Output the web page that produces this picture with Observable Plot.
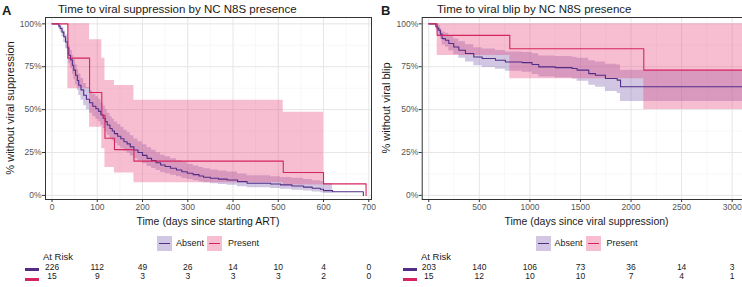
<!DOCTYPE html>
<html>
<head>
<meta charset="utf-8">
<script src="https://cdn.jsdelivr.net/npm/d3@7"></script>
<script src="https://cdn.jsdelivr.net/npm/@observablehq/plot@0.6"></script>
<style>
  html, body { margin: 0; padding: 0; background: #fff; }
  #fig { position: relative; width: 742px; height: 287px; overflow: hidden;
         font-family: 'Liberation Sans', Arial, Helvetica, sans-serif; color: #1a1a1a; }
  #fig .t { position: absolute; white-space: nowrap; line-height: 1; transform: translate(0, -50%); }
  #fig .c { transform: translate(-50%, -50%); }
  #fig .r { transform: translate(-50%, -50%) rotate(-90deg); }
  #fig .sw { position: absolute; width: 15px; height: 15px; }
  #fig .sw::after { content: ""; position: absolute; left: 2px; right: 2px; top: 7px; height: 1.2px; background: var(--line); }
  #fig .bar { position: absolute; height: 3px; }
  #fig svg { position: absolute; top: 0; }
</style>
</head>
<body>
<div id="fig"></div>
<script>
// Kaplan–Meier estimates: [time (days), survival, lower 95% CI, upper 95% CI]
const suppressionAbsent = [
  [0, 1, 1, 1], [15, 0.987, 0.972, 1], [18, 0.973, 0.952, 0.994], [22, 0.952, 0.925, 0.98],
  [26, 0.925, 0.891, 0.96], [30, 0.894, 0.855, 0.935], [34, 0.86, 0.816, 0.906],
  [37, 0.817, 0.768, 0.869], [41, 0.79, 0.739, 0.845], [45, 0.759, 0.705, 0.817],
  [48, 0.73, 0.674, 0.79], [52, 0.70, 0.643, 0.762], [56, 0.67, 0.611, 0.734],
  [59, 0.642, 0.582, 0.708], [64, 0.615, 0.555, 0.682], [70, 0.584, 0.523, 0.652],
  [76, 0.56, 0.499, 0.629], [83, 0.54, 0.479, 0.609], [90, 0.52, 0.459, 0.589],
  [97, 0.505, 0.444, 0.575], [103, 0.49, 0.429, 0.56], [108, 0.47, 0.409, 0.54],
  [113, 0.45, 0.39, 0.52], [118, 0.43, 0.37, 0.50], [122, 0.41, 0.351, 0.479],
  [128, 0.39, 0.331, 0.459], [133, 0.375, 0.317, 0.444], [138, 0.36, 0.303, 0.428],
  [145, 0.345, 0.288, 0.413], [152, 0.33, 0.274, 0.397], [159, 0.313, 0.258, 0.38],
  [166, 0.30, 0.246, 0.366], [173, 0.283, 0.23, 0.348], [181, 0.265, 0.213, 0.329],
  [190, 0.25, 0.20, 0.313], [200, 0.233, 0.184, 0.295], [210, 0.216, 0.169, 0.277],
  [220, 0.203, 0.157, 0.263], [230, 0.19, 0.145, 0.249], [240, 0.177, 0.134, 0.234],
  [250, 0.168, 0.126, 0.225], [262, 0.158, 0.117, 0.213], [275, 0.148, 0.108, 0.202],
  [287, 0.138, 0.099, 0.191], [299, 0.129, 0.092, 0.181], [312, 0.121, 0.085, 0.172],
  [325, 0.113, 0.078, 0.163], [335, 0.106, 0.073, 0.155], [350, 0.10, 0.068, 0.148],
  [368, 0.095, 0.064, 0.142], [387, 0.09, 0.059, 0.136], [410, 0.08, 0.051, 0.124],
  [431, 0.071, 0.044, 0.114], [483, 0.066, 0.04, 0.108], [505, 0.061, 0.036, 0.104],
  [530, 0.055, 0.03, 0.10], [556, 0.048, 0.025, 0.092], [575, 0.042, 0.02, 0.086],
  [593, 0.036, 0.016, 0.08], [600, 0.028, 0.011, 0.07], [620, 0.021, null, null],
  [688, 0, null, null]
];
const suppressionPresent = [
  [0, 1, 1, 1], [35, 0.8, 0.621, 1], [83, 0.6, 0.397, 0.907], [110, 0.467, 0.272, 0.80],
  [117, 0.333, 0.163, 0.67], [138, 0.267, 0.13, 0.64], [181, 0.2, 0.073, 0.555],
  [511, 0.133, 0.06, 0.484], [600, 0.067, null, null], [694, 0, null, null]
];
const blipAbsent = [
  [0, 1, 1, 1], [70, 0.985, 0.968, 1], [83, 0.975, 0.953, 0.997], [99, 0.962, 0.935, 0.99],
  [115, 0.94, 0.91, 0.972], [132, 0.914, 0.876, 0.953], [165, 0.904, 0.864, 0.945],
  [198, 0.885, 0.842, 0.93], [247, 0.865, 0.82, 0.912], [297, 0.846, 0.80, 0.895],
  [363, 0.827, 0.778, 0.878], [445, 0.807, 0.756, 0.86], [528, 0.798, 0.746, 0.853],
  [660, 0.788, 0.735, 0.845], [758, 0.778, 0.723, 0.836], [923, 0.774, 0.718, 0.833],
  [1022, 0.763, 0.705, 0.825], [1088, 0.749, 0.69, 0.812], [1250, 0.745, 0.685, 0.81],
  [1418, 0.74, 0.678, 0.806], [1467, 0.73, 0.666, 0.799], [1582, 0.71, 0.642, 0.785],
  [1648, 0.70, 0.63, 0.778], [1747, 0.681, 0.606, 0.765], [1863, 0.672, 0.594, 0.76],
  [1896, 0.633, 0.548, 0.73], [3200, 0.633, 0.548, 0.73]
];
const blipPresent = [
  [0, 1, 1, 1], [83, 0.933, 0.815, 1], [801, 0.855, 0.68, 1], [2126, 0.73, 0.50, 1],
  [3200, 0.73, 0.50, 1]
];

// Numbers at risk
const suppressionRiskTimes = [0, 100, 200, 300, 400, 500, 600, 700];
const suppressionRiskAbsent = [226, 112, 49, 26, 14, 10, 4, 0];
const suppressionRiskPresent = [15, 9, 3, 3, 3, 3, 2, 0];
const blipRiskTimes = [0, 500, 1000, 1500, 2000, 2500, 3000];
const blipRiskAbsent = [203, 140, 106, 73, 36, 14, 3];
const blipRiskPresent = [15, 12, 10, 10, 7, 4, 1];

const groups = ["Absent", "Present"];
const lineColors = ["#512d86", "#d6245e"];
const ribbonColors = ["#7b5fb0", "#e8447a"];
const ribbonOpacity = 0.35;
const percentTicks = [0, 0.25, 0.5, 0.75, 1];
const percentMinor = [0.125, 0.375, 0.625, 0.875];

const font = "'Liberation Sans', Arial, Helvetica, sans-serif";
const fig = document.getElementById("fig");

function lineRows(rows) { return rows.map(([t, s]) => ({t, s})); }
function ribbonRows(rows) {
  const out = [];
  for (const [t, , lo, hi] of rows) {
    if (lo == null) { if (out.length) out.push({t, lo: out[out.length - 1].lo, hi: out[out.length - 1].hi}); break; }
    out.push({t, lo, hi});
  }
  return out;
}

function panel(o) {
  const riskRows = (counts) => o.riskTimes.map((t, i) => ({t, n: counts[i]}));
  const svg = Plot.plot({
    width: o.width, height: 287,
    marginLeft: o.marginLeft, marginRight: 0, marginTop: 17, marginBottom: 88,
    style: {fontFamily: font, background: "transparent", overflow: "visible"},
    x: {domain: o.xDomain},
    y: {domain: [-0.024, 1.037]},
    marks: [
      Plot.ruleX(o.xMinor, {stroke: "#f2f2f2", strokeWidth: 0.6}),
      Plot.ruleY(percentMinor, {stroke: "#f2f2f2", strokeWidth: 0.6}),
      Plot.ruleX(o.xTicks, {stroke: "#e6e6e6", strokeWidth: 1}),
      Plot.ruleY(percentTicks, {stroke: "#e6e6e6", strokeWidth: 1}),
      Plot.areaY(ribbonRows(o.absent), {x: "t", y1: "lo", y2: "hi", curve: "step-after",
        fill: ribbonColors[0], fillOpacity: ribbonOpacity, clip: true}),
      Plot.areaY(ribbonRows(o.present), {x: "t", y1: "lo", y2: "hi", curve: "step-after",
        fill: ribbonColors[1], fillOpacity: ribbonOpacity, clip: true}),
      Plot.lineY(lineRows(o.absent), {x: "t", y: "s", curve: "step-after",
        stroke: lineColors[0], strokeWidth: 1.1, clip: true}),
      Plot.lineY(lineRows(o.present), {x: "t", y: "s", curve: "step-after",
        stroke: lineColors[1], strokeWidth: 1.1, clip: true}),
      Plot.frame({stroke: "#333", strokeWidth: 1}),
      Plot.axisX(o.xTicks, {tickSize: 3, tickPadding: 1, fontSize: 8.5, label: null,
        tickFormat: d3.format("d"), stroke: "#333", fill: "#555"}),
      Plot.axisY(percentTicks, {tickSize: 3, tickPadding: 1, fontSize: 8.5, label: null,
        tickFormat: d3.format(".0%"), stroke: "#333", fill: "#555"}),
      Plot.text(riskRows(o.riskAbsent), {x: "t", text: "n", frameAnchor: "bottom", dy: 70.5,
        fontSize: 8.5, fill: "#1a1a1a"}),
      Plot.text(riskRows(o.riskPresent), {x: "t", text: "n", frameAnchor: "bottom", dy: 79.8,
        fontSize: 8.5, fill: "#1a1a1a"})
    ]
  });
  svg.style.left = o.left + "px";
  fig.appendChild(svg);

  const L = o.left;
  const add = (html) => fig.insertAdjacentHTML("beforeend", html);
  add(`<div class="t" style="left:${L + o.letterX}px;top:10px;font-size:13px;font-weight:bold">${o.letter}</div>`);
  add(`<div class="t" style="left:${L + o.titleX}px;top:9.5px;font-size:11.5px">${o.title}</div>`);
  add(`<div class="t r" style="left:${L + o.yTitleX}px;top:108px;font-size:11px">${o.yTitle}</div>`);
  add(`<div class="t c" style="left:${L + o.frameCenter}px;top:221px;font-size:10.5px">${o.xTitle}</div>`);
  // legend
  const lx = L + o.frameCenter - 51;
  add(`<div class="sw" style="left:${lx}px;top:236px;background:rgba(123,95,176,${ribbonOpacity});--line:${lineColors[0]}"></div>`);
  add(`<div class="t" style="left:${lx + 19}px;top:243px;font-size:9px">${groups[0]}</div>`);
  add(`<div class="sw" style="left:${lx + 50}px;top:236px;background:rgba(232,68,122,${ribbonOpacity});--line:${lineColors[1]}"></div>`);
  add(`<div class="t" style="left:${lx + 71}px;top:243px;font-size:9px">${groups[1]}</div>`);
  // risk table header and strata keys
  add(`<div class="t" style="left:${L + o.riskLabelX}px;top:256.5px;font-size:9.5px">At Risk</div>`);
  add(`<div class="bar" style="left:${L + o.barX}px;top:268px;width:14px;background:${lineColors[0]}"></div>`);
  add(`<div class="bar" style="left:${L + o.barX}px;top:277.5px;width:14px;background:${lineColors[1]}"></div>`);
}

panel({
  left: 0, width: 371, marginLeft: 45, xDomain: [-14.4, 706],
  xTicks: [0, 100, 200, 300, 400, 500, 600, 700],
  xMinor: [50, 150, 250, 350, 450, 550, 650],
  absent: suppressionAbsent, present: suppressionPresent,
  riskTimes: suppressionRiskTimes, riskAbsent: suppressionRiskAbsent, riskPresent: suppressionRiskPresent,
  letter: "A", letterX: 2, title: "Time to viral suppression by NC N8S presence", titleX: 58,
  yTitle: "% without viral suppression", yTitleX: 9.5,
  xTitle: "Time (days since starting ART)", frameCenter: 208,
  riskLabelX: 43, barX: 25
});

panel({
  left: 371, width: 380, marginLeft: 50.7, xDomain: [-65, 3191],
  xTicks: [0, 500, 1000, 1500, 2000, 2500, 3000],
  xMinor: [250, 750, 1250, 1750, 2250, 2750],
  absent: blipAbsent, present: blipPresent,
  riskTimes: blipRiskTimes, riskAbsent: blipRiskAbsent, riskPresent: blipRiskPresent,
  letter: "B", letterX: 10, title: "Time to viral blip by NC N8S presence", titleX: 66,
  yTitle: "% without viral blip", yTitleX: 15,
  xTitle: "Time (days since viral suppression)", frameCenter: 215.5,
  riskLabelX: 50, barX: 32
});
</script>
</body>
</html>
